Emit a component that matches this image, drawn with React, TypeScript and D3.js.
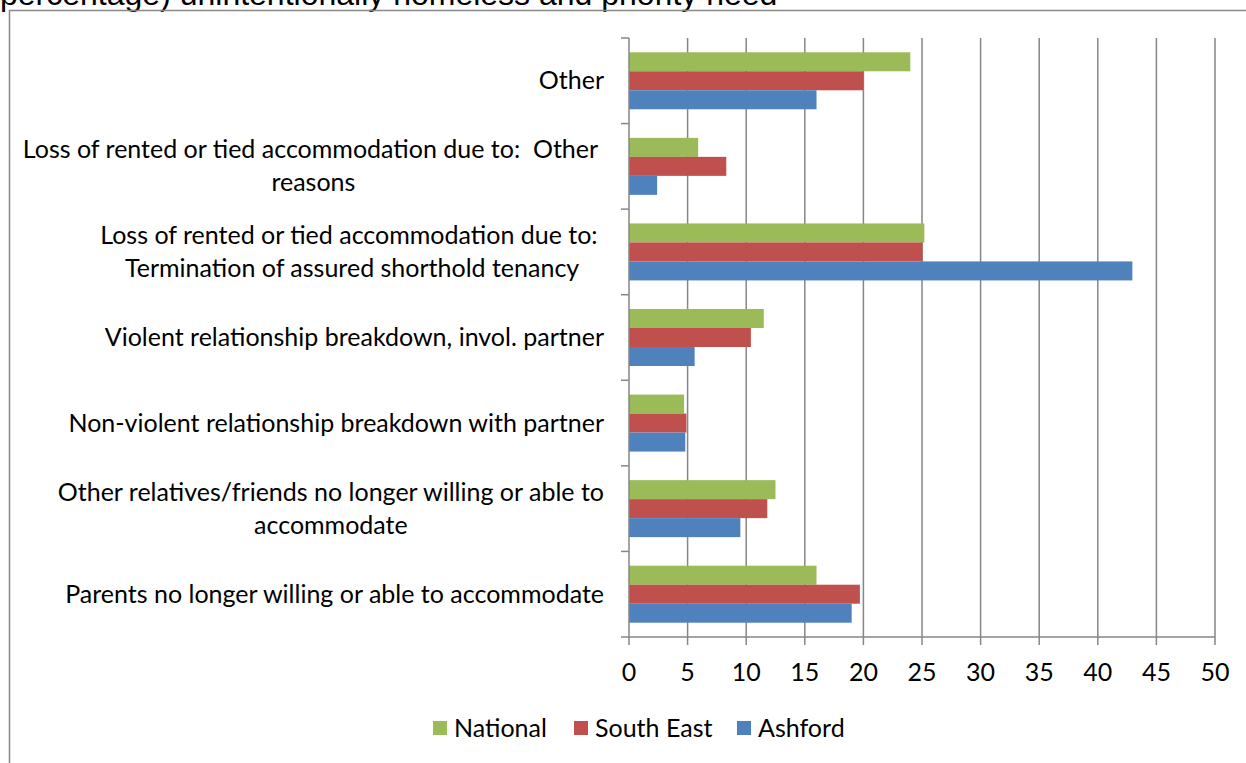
import React, { useEffect, useRef } from 'react';
import * as d3 from 'd3';

// categories, top to bottom as drawn
const categories: string[][] = [
  ['Other'],
  ['Loss of rented or tied accommodation due to:  Other ', 'reasons'],
  ['Loss of rented or tied accommodation due to: ', 'Termination of assured shorthold tenancy'],
  ['Violent relationship breakdown, invol. partner'],
  ['Non-violent relationship breakdown with partner'],
  ['Other relatives/friends no longer willing or able to', 'accommodate'],
  ['Parents no longer willing or able to accommodate'],
];

const seriesNames = ['National', 'South East', 'Ashford'];
const seriesColors = ['#9BBB59', '#C0504D', '#4F81BD'];

const national = [24.0, 5.9, 25.2, 11.5, 4.7, 12.5, 16.0];
const southEast = [20.0, 8.3, 25.05, 10.4, 4.9, 11.8, 19.7];
const ashford = [16.0, 2.4, 42.95, 5.6, 4.8, 9.5, 19.0];

const xTicks = [0, 5, 10, 15, 20, 25, 30, 35, 40, 45, 50];

const titleText = 'percentage) unintentionally homeless and priority need';

const W = 1246;
const H = 763;
const FONT = 'Lato, "Open Sans", sans-serif';
const FS = '25px';

export default function App() {
  const svgRef = useRef<SVGSVGElement>(null);

  useEffect(() => {
    if (!svgRef.current) return;
    const svg = d3.select(svgRef.current);
    svg.selectAll('*').remove();

    const left = 629;
    const right = 1215;
    const top = 38;
    const bottom = 637;

    const x = d3.scaleLinear().domain([0, 50]).range([left, right]);
    const y = d3.scaleBand<number>()
      .domain(d3.range(categories.length))
      .range([top, bottom])
      .paddingInner(0.334)
      .paddingOuter(0.167);
    const ys = d3.scaleBand<number>().domain([0, 1, 2]).range([0, y.bandwidth()]);

    const values = [national, southEast, ashford];

    svg.append('rect').attr('width', W).attr('height', H).attr('fill', '#fff');

    // title (cut off at the top of the page)
    svg.append('text')
      .attr('x', 0)
      .attr('y', 5)
      .attr('fill', '#000')
      .style('font-family', '"Liberation Sans", Arial, sans-serif')
      .style('font-size', '32px')
      .text(titleText);

    // chart frame
    svg.append('rect')
      .attr('x', 9.5)
      .attr('y', 10.5)
      .attr('width', W + 20)
      .attr('height', H + 20)
      .attr('fill', 'none')
      .attr('stroke', '#898989')
      .attr('stroke-width', 1.5);

    // vertical gridlines
    svg.append('g')
      .selectAll('line')
      .data(xTicks.slice(1))
      .join('line')
      .attr('x1', d => x(d)).attr('x2', d => x(d))
      .attr('y1', top).attr('y2', bottom + 8)
      .attr('stroke', '#868686')
      .attr('stroke-width', 1.5);

    // bars
    const g = svg.append('g');
    categories.forEach((_, ci) => {
      values.forEach((vals, si) => {
        g.append('rect')
          .attr('x', x(0))
          .attr('y', (y(ci) || 0) + (ys(si) || 0))
          .attr('width', x(vals[ci]) - x(0))
          .attr('height', ys.bandwidth())
          .attr('fill', seriesColors[si]);
      });
    });

    // axes
    const axisG = svg.append('g').attr('stroke', '#868686').attr('stroke-width', 1.5);
    axisG.append('line').attr('x1', left).attr('x2', left).attr('y1', top).attr('y2', bottom + 8);
    axisG.append('line').attr('x1', left - 8).attr('x2', right).attr('y1', bottom).attr('y2', bottom);
    const bounds = d3.range(categories.length).map(i => y(i)! - y.step() * y.paddingInner() / 2);
    axisG.selectAll('line.ct')
      .data(bounds)
      .join('line')
      .attr('class', 'ct')
      .attr('x1', left - 8).attr('x2', left)
      .attr('y1', d => d).attr('y2', d => d);

    // x tick labels
    svg.append('g')
      .selectAll('text')
      .data(xTicks)
      .join('text')
      .attr('x', d => x(d))
      .attr('y', 681)
      .attr('text-anchor', 'middle')
      .style('font-family', FONT)
      .style('font-size', FS)
      .attr('fill', '#000')
      .text(d => d);

    // category labels
    const labelRight = 604;
    const lineGap = 33;
    categories.forEach((lines, ci) => {
      const cy = (y(ci) || 0) + y.bandwidth() / 2;
      const texts = lines.map((ln, li) =>
        svg.append('text')
          .attr('y', cy + (li - (lines.length - 1) / 2) * lineGap + 8.5)
          .style('font-family', FONT)
          .style('font-size', FS)
          .style('white-space', 'pre')
          .attr('fill', '#000')
          .attr('text-anchor', 'middle')
          .text(ln)
      );
      const widths = texts.map(t => (t.node() as SVGTextElement).getComputedTextLength());
      const maxW = d3.max(widths) || 0;
      texts.forEach(t => t.attr('x', labelRight - maxW / 2));
    });

    // legend
    const legendX = [433, 574, 737];
    const leg = svg.append('g');
    seriesNames.forEach((name, i) => {
      leg.append('rect')
        .attr('x', legendX[i]).attr('y', 721)
        .attr('width', 14).attr('height', 14)
        .attr('fill', seriesColors[i]);
      leg.append('text')
        .attr('x', legendX[i] + 21)
        .attr('y', 737)
        .style('font-family', FONT)
        .style('font-size', FS)
        .attr('fill', '#000')
        .text(name);
    });
  }, []);

  return (
    <div style={{ position: 'absolute', left: 0, top: 0 }}>
      <svg ref={svgRef} width={W} height={H} style={{ display: 'block' }} />
    </div>
  );
}
